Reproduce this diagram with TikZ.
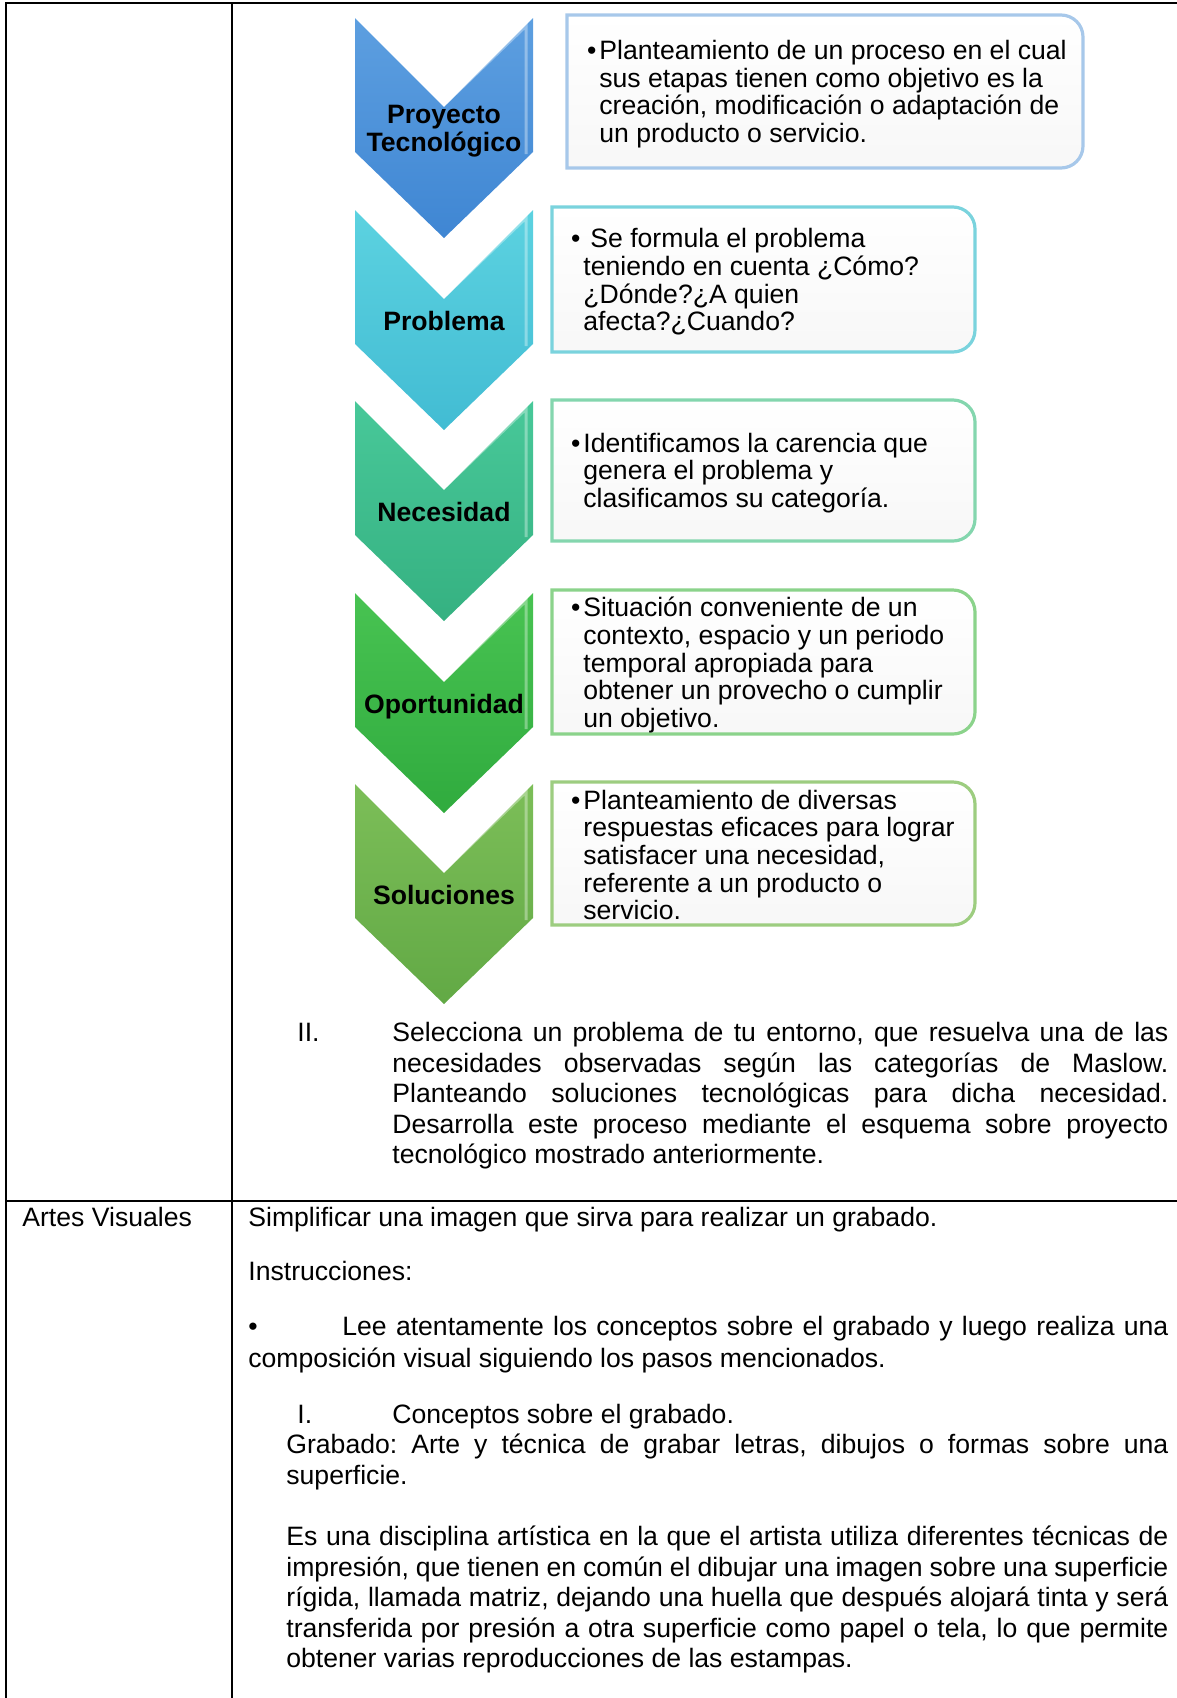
\documentclass[tikz,border=0pt]{standalone}
\usepackage{fontspec}
\setmainfont{Liberation Sans}
\hyphenpenalty=10000
\exhyphenpenalty=10000
\frenchspacing

\definecolor{chevAt}{HTML}{5D9FE0}
\definecolor{chevAb}{HTML}{3F86D3}
\definecolor{chevBt}{HTML}{5CD2E0}
\definecolor{chevBb}{HTML}{42BCD3}
\definecolor{chevCt}{HTML}{48C899}
\definecolor{chevCb}{HTML}{35B181}
\definecolor{chevDt}{HTML}{48C352}
\definecolor{chevDb}{HTML}{30AB3E}
\definecolor{chevEt}{HTML}{7CBE58}
\definecolor{chevEb}{HTML}{62A945}
\definecolor{bdA}{HTML}{A7C8EA}
\definecolor{bdB}{HTML}{7AD3DD}
\definecolor{bdC}{HTML}{84D6AE}
\definecolor{bdD}{HTML}{8BD38B}
\definecolor{bdE}{HTML}{9DCD80}

\begin{document}
\begin{tikzpicture}[x=0.5pt, y=-0.5pt,
  chevlabel/.style={font=\fontsize{13.3}{14}\selectfont\bfseries, align=center, inner sep=0pt},
  boxtext/.style={font=\fontsize{13.3}{13.85}\selectfont, align=left, anchor=west, inner sep=0pt},
  bodytext/.style={font=\fontsize{13.3}{15.3}\selectfont, inner sep=0pt},
  infobox/.style={line width=1.6pt, top color=white, bottom color=black!3},
  bevel/.style={white, opacity=.35, line width=1.5pt},
  tableline/.style={line width=1pt}]
\useasboundingbox (0,0) rectangle (1177,1698);

% table
\draw[tableline] (6,1698) -- (6,3) -- (1177,3);
\draw[tableline] (232,3) -- (232,1698);
\draw[tableline] (6,1201) -- (1177,1201);

% chevrons
\shade[top color=chevAt, bottom color=chevAb] (355,18) -- (444,107) -- (533,18) -- (533,152) -- (444,238) -- (355,152) -- cycle;
\shade[top color=chevBt, bottom color=chevBb] (355,210) -- (444,299) -- (533,210) -- (533,344) -- (444,430) -- (355,344) -- cycle;
\shade[top color=chevCt, bottom color=chevCb] (355,401) -- (444,490) -- (533,401) -- (533,535) -- (444,621) -- (355,535) -- cycle;
\shade[top color=chevDt, bottom color=chevDb] (355,593) -- (444,682) -- (533,593) -- (533,727) -- (444,813) -- (355,727) -- cycle;
\shade[top color=chevEt, bottom color=chevEb] (355,784) -- (444,873) -- (533,784) -- (533,918) -- (444,1004) -- (355,918) -- cycle;
\draw[bevel] (446,103) -- (526,26) -- (526,154);
\draw[bevel] (446,295) -- (526,218) -- (526,346);
\draw[bevel] (446,486) -- (526,409) -- (526,537);
\draw[bevel] (446,678) -- (526,601) -- (526,729);
\draw[bevel] (446,869) -- (526,792) -- (526,920);

\node[chevlabel] (CH1) at (444,131) {Proyecto\\Tecnológico};
\node[chevlabel, anchor=base] (CH2) at (444,330) {Problema};
\node[chevlabel, anchor=base] (CH3) at (444,521) {Necesidad};
\node[chevlabel, anchor=base] (CH4) at (444,713) {Oportunidad};
\node[chevlabel, anchor=base] (CH5) at (444,904) {Soluciones};

% boxes
\draw[infobox, draw=bdA] (567,15) -- (1061,15) arc[start angle=90, end angle=0, radius=11pt] -- (1083,146) arc[start angle=0, end angle=-90, radius=11pt] -- (567,168) -- cycle;
\draw[infobox, draw=bdB] (552,207) -- (953,207) arc[start angle=90, end angle=0, radius=11pt] -- (975,330) arc[start angle=0, end angle=-90, radius=11pt] -- (552,352) -- cycle;
\draw[infobox, draw=bdC] (552,400) -- (953,400) arc[start angle=90, end angle=0, radius=11pt] -- (975,519) arc[start angle=0, end angle=-90, radius=11pt] -- (552,541) -- cycle;
\draw[infobox, draw=bdD] (552,590) -- (953,590) arc[start angle=90, end angle=0, radius=11pt] -- (975,712) arc[start angle=0, end angle=-90, radius=11pt] -- (552,734) -- cycle;
\draw[infobox, draw=bdE] (552,782) -- (953,782) arc[start angle=90, end angle=0, radius=11pt] -- (975,903) arc[start angle=0, end angle=-90, radius=11pt] -- (552,925) -- cycle;

\node[boxtext] (TX1) at (599,94) {\llap{•\hspace{1.5pt}}Planteamiento de un proceso en el cual\\sus etapas tienen como objetivo es la\\creación, modificación o adaptación de\\un producto o servicio.};
\node[boxtext] (TX2) at (583,282) {\llap{•\hspace{1.5pt}}\hspace{3.5pt}Se formula el problema\\teniendo en cuenta ¿Cómo?\\¿Dónde?¿A quien\\afecta?¿Cuando?};
\node[boxtext] (TX3) at (583,473) {\llap{•\hspace{1.5pt}}Identificamos la carencia que\\genera el problema y\\clasificamos su categoría.};
\node[boxtext] (TX4) at (583,665) {\llap{•\hspace{1.5pt}}Situación conveniente de un\\contexto, espacio y un periodo\\temporal apropiada para\\obtener un provecho o cumplir\\un objetivo.};
\node[boxtext] (TX5) at (583,855) {\llap{•\hspace{1.5pt}}Planteamiento de diversas\\respuestas eficaces para lograr\\satisfacer una necesidad,\\referente a un producto o\\servicio.};

% text of the cells
\node[bodytext, anchor=base west] (N2) at (297,1041) {II.};
\node[bodytext, anchor=north west, text width=388pt, align=justify] (P2) at (392,1019.6) {\strut Selecciona un problema de tu entorno, que resuelva una de las\linebreak necesidades observadas según las categorías de Maslow.\linebreak Planteando soluciones tecnológicas para dicha necesidad.\linebreak Desarrolla este proceso mediante el esquema sobre proyecto\linebreak tecnológico mostrado anteriormente.};

\node[bodytext, anchor=base west] (AV) at (22,1226) {Artes Visuales};
\node[bodytext, anchor=base west] (S1) at (248,1226) {Simplificar una imagen que sirva para realizar un grabado.};
\node[bodytext, anchor=base west] (S2) at (248,1280) {Instrucciones:};
\node[bodytext, anchor=north west, text width=460pt, align=justify, font=\fontsize{13.3}{16.2}\selectfont] (S3) at (248,1312.3) {\strut\makebox[47pt][l]{•}Lee atentamente los conceptos sobre el grabado y luego realiza una\linebreak composición visual siguiendo los pasos mencionados.};
\node[bodytext, anchor=base west] (N1) at (297,1423) {I.};
\node[bodytext, anchor=base west] (S4) at (392,1423) {Conceptos sobre el grabado.};
\node[bodytext, anchor=north west, text width=441pt, align=justify] (S5) at (286,1431.6) {\strut Grabado: Arte y técnica de grabar letras, dibujos o formas sobre una\linebreak superficie.};
\node[bodytext, anchor=north west, text width=441pt, align=justify] (S6) at (286,1523.6) {\strut Es una disciplina artística en la que el artista utiliza diferentes técnicas de\linebreak impresión, que tienen en común el dibujar una imagen sobre una superficie\linebreak rígida, llamada matriz, dejando una huella que después alojará tinta y será\linebreak transferida por presión a otra superficie como papel o tela, lo que permite\linebreak obtener varias reproducciones de las estampas.};
\end{tikzpicture}
\end{document}
